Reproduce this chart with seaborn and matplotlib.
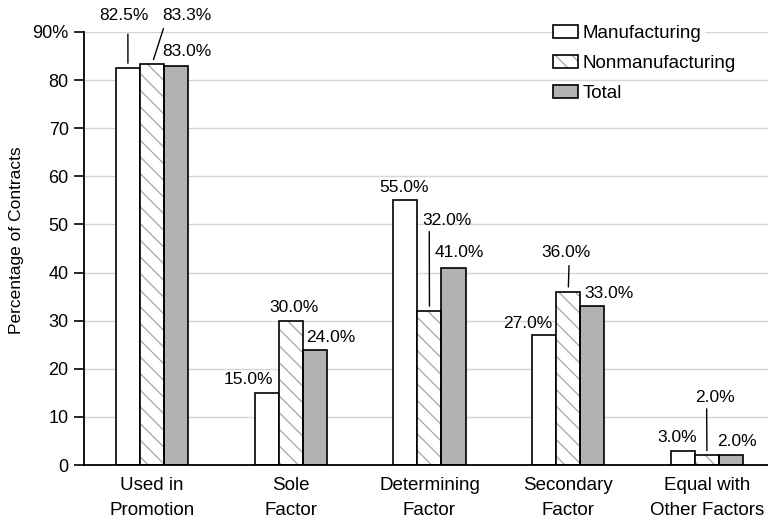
import numpy as np
import pandas as pd
import seaborn as sns
import matplotlib.pyplot as plt
from matplotlib.patches import Rectangle
from matplotlib.legend_handler import HandlerBase

# data
factors = ['Used in\nPromotion', 'Sole\nFactor', 'Determining\nFactor',
           'Secondary\nFactor', 'Equal with\nOther Factors']
groups = ['Manufacturing', 'Nonmanufacturing', 'Total']
manufacturing = [82.5, 15.0, 55.0, 27.0, 3.0]
nonmanufacturing = [83.3, 30.0, 32.0, 36.0, 2.0]
total = [83.0, 24.0, 41.0, 33.0, 2.0]
y_ticks = [0, 10, 20, 30, 40, 50, 60, 70, 80, 90]
y_tick_labels = ['0', '10', '20', '30', '40', '50', '60', '70', '80', '90%']

df = pd.DataFrame({
    'factor': factors * 3,
    'group': np.repeat(groups, len(factors)),
    'pct': manufacturing + nonmanufacturing + total,
})

hatch_gray = '#a5a5a5'
total_gray = '#b2b2b2'
hatch = '\\\\'

sns.set_style('white')
plt.rcParams['font.family'] = ['Liberation Sans', 'DejaVu Sans']
plt.rcParams['hatch.linewidth'] = 0.9
plt.rcParams['text.color'] = 'black'
plt.rcParams['xtick.color'] = 'black'
plt.rcParams['ytick.color'] = 'black'
plt.rcParams['axes.labelcolor'] = 'black'

fig = plt.figure(figsize=(7.68, 5.19), dpi=100)
ax = fig.add_axes([84 / 768, 54 / 519, 684 / 768, 433 / 519])

sns.barplot(data=df, x='factor', y='pct', hue='group', hue_order=groups,
            palette={'Manufacturing': 'white', 'Nonmanufacturing': 'white', 'Total': total_gray},
            width=0.52, edgecolor='black', linewidth=1.2, saturation=1,
            legend=False, ax=ax, zorder=3)

# hatched bars: gray hatch, black outline on top
for p in ax.containers[1].patches:
    p.set_hatch(hatch)
    p.set_edgecolor(hatch_gray)
    p.set_linewidth(0)
    ax.add_patch(Rectangle((p.get_x(), p.get_y()), p.get_width(), p.get_height(),
                           fill=False, edgecolor='black', lw=1.2, zorder=4))

ax.set_xlim(-0.49, 4.44)
ax.set_ylim(0, 90)
ax.set_yticks(y_ticks, y_tick_labels)
ax.set_xticks(range(len(factors)), factors)
ax.yaxis.grid(True, color='#d6d6d6', lw=1)
ax.set_axisbelow(True)
for s in ['top', 'right']:
    ax.spines[s].set_visible(False)
for s in ['left', 'bottom']:
    ax.spines[s].set_color('black')
    ax.spines[s].set_linewidth(1.3)
    ax.spines[s].set_zorder(5)
ax.tick_params(axis='y', length=7, width=1.2, color='black', pad=4, labelsize=13, left=True)
ax.tick_params(axis='x', length=0, pad=9, labelsize=13.5)
ax.set_xlabel('')
ax.set_ylabel('Percentage of Contracts', fontsize=12.5, labelpad=6)
ax.yaxis.label.set_y(0.52)

# value labels: (dx, dy) pixels from bar top, optional leader (relpos_x, shrinkA)
offsets = [
    [(-4, 53, (0.58, 6)), (-18, 13, None), (-1, 13, None), (-16, 12, None), (-6, 13, None)],
    [(35, 49, (0.06, 2)), (3, 13, None), (18, 91, (0.13, 0.5)), (-2, 39, (0.56, 1.5)), (8, 58, (0.29, 0.5))],
    [(11, 14, None), (16, 12, None), (6, 15, None), (17, 13, None), (6, 14, None)],
]
for gi, cont in enumerate(ax.containers):
    for bi, p in enumerate(cont.patches):
        dx, dy, lead = offsets[gi][bi]
        xc = p.get_x() + p.get_width() / 2
        h = p.get_height()
        kw = {}
        if lead is not None:
            kw['arrowprops'] = dict(arrowstyle='-', color='black', lw=1.0,
                                    relpos=(lead[0], 0), shrinkA=lead[1], shrinkB=3.5)
        ax.annotate(f'{h:.1f}%', xy=(xc, h), xytext=(dx, dy), textcoords='offset pixels',
                    ha='center', va='center', fontsize=12.5, annotation_clip=False, **kw)


class BarHandler(HandlerBase):
    def __init__(self, face, hatched):
        super().__init__()
        self.face = face
        self.hatched = hatched

    def create_artists(self, legend, orig_handle, xdescent, ydescent, width, height, fontsize, trans):
        arts = []
        if self.hatched:
            arts.append(Rectangle((-xdescent, -ydescent), width, height, facecolor='white',
                                  edgecolor=hatch_gray, hatch=hatch, lw=0, transform=trans))
            arts.append(Rectangle((-xdescent, -ydescent), width, height, fill=False,
                                  edgecolor='black', lw=1.2, transform=trans))
        else:
            arts.append(Rectangle((-xdescent, -ydescent), width, height, facecolor=self.face,
                                  edgecolor='black', lw=1.2, transform=trans))
        return arts


handles = [Rectangle((0, 0), 1, 1) for _ in groups]
hmap = {handles[0]: BarHandler('white', False),
        handles[1]: BarHandler('white', True),
        handles[2]: BarHandler(total_gray, False)}
leg = ax.legend(handles, groups, handler_map=hmap, loc='upper left',
                bbox_to_anchor=(553 / 768, 1 - 25 / 519), bbox_transform=fig.transFigure,
                frameon=False, fontsize=13.5, borderpad=0, borderaxespad=0,
                handlelength=1.35, handleheight=0.65, handletextpad=0.25, labelspacing=0.7)
leg.set_zorder(6)
for t in leg.get_texts():
    t.set_bbox(dict(facecolor='white', edgecolor='none', pad=2))

fig.canvas.draw()
for t in ax.get_xticklabels():
    t.set_linespacing(1.58)

plt.savefig('out.png', dpi=100)
